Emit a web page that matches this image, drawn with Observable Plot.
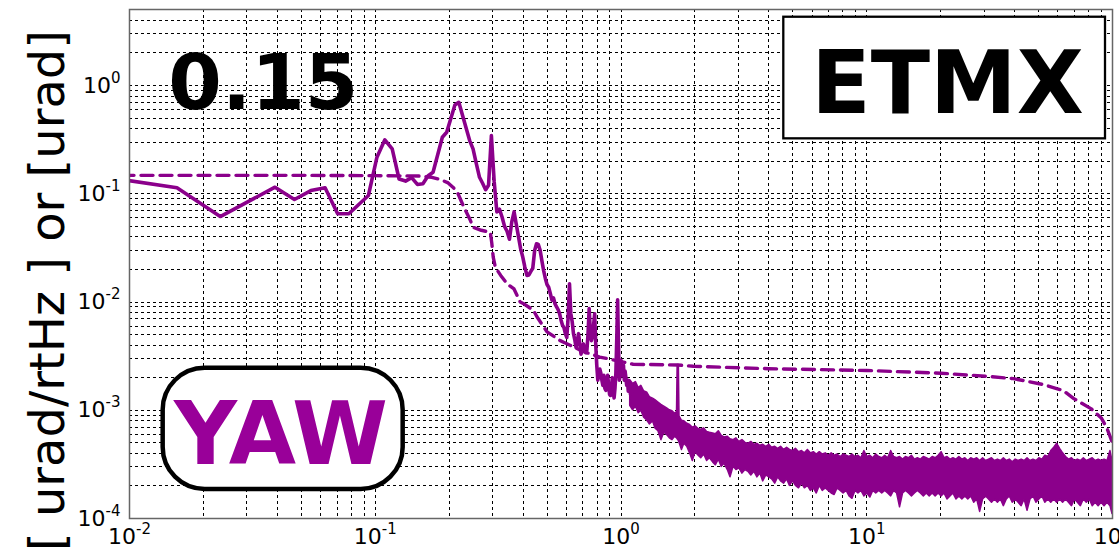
<!DOCTYPE html>
<html><head><meta charset="utf-8">
<script src="https://cdn.jsdelivr.net/npm/d3@7"></script>
<script src="https://cdn.jsdelivr.net/npm/@observablehq/plot@0.6"></script>
<style>html,body{margin:0;padding:0;background:#fff;overflow:hidden;}</style>
</head><body><div id="chart"></div>
<script>
// ---- axis ticks ----
const xTickValues = [0.01, 0.1, 1, 10, 100];
const xTickExps = ["-2", "-1", "0", "1", "2"];
const yTickValues = [1e-4, 1e-3, 1e-2, 1e-1, 1];
const yTickExps = ["-4", "-3", "-2", "-1", "0"];
const yLabel = "[ urad/rtHz ] or [urad]";

// ---- solid ASD line (low-frequency part) ----
const lineF = [0.0078,0.0156,0.0234,0.0391,0.0469,0.0547,0.0625,0.0703,0.0781,0.0938,
  0.1016,0.1094,0.1172,0.125,0.1328,0.1406,0.1484,0.1563,0.1641,0.1719,
  0.1875,0.1953,0.2109,0.2188,0.2422,0.25,0.2578,0.2656,0.2734,0.2813,
  0.2891,0.2969,0.3047,0.3125,0.3203,0.3281,0.3359,0.3438,0.3516,0.3594,
  0.3672,0.375,0.3828,0.3906,0.3984,0.4063,0.4141,0.4219,0.4297,0.4375,
  0.4453,0.4531,0.4609,0.4688,0.4766,0.4844,0.4922,0.5,0.5078,0.5156,
  0.5234,0.5313,0.5391,0.5469,0.5547,0.5625,0.5703,0.5781,0.5859,0.5938,
  0.6016,0.6094,0.6172,0.625,0.6328,0.6406,0.6484,0.6563,0.6641,0.6719,
  0.6797,0.6875,0.6953,0.7031,0.7109,0.7188,0.7266,0.7344,0.7422,0.75,
  0.7578,0.7656,0.7734,0.7813,0.7891,0.7969,0.8047,0.8125,0.8203,0.8281,
  0.8359,0.8438,0.8516,0.8594,0.8672,0.875,0.8828,0.8906,0.8984,0.9063,
  0.9141,0.9219,0.9297,0.9375,0.9453,0.9531,0.9609,0.9688,0.9766,0.9844,
  0.9922,1.0,1.0078,1.0156,1.0234,1.0313,1.0391,1.0469,1.0547,1.0625,
  1.0703,1.0781,1.0859,1.0938,1.1016,1.1094];
const lineA = [0.144,0.1135,0.0616,0.115,0.0885,0.107,0.1135,0.0653,0.0653,0.0964,
  0.218,0.315,0.26,0.137,0.131,0.141,0.122,0.124,0.147,0.158,
  0.333,0.37,0.66,0.70,0.31,0.26,0.19,0.142,0.125,0.109,
  0.12,0.345,0.13,0.068,0.072,0.061,0.050,0.045,0.038,0.055,
  0.068,0.052,0.040,0.031,0.026,0.021,0.0176,0.0178,0.0192,0.0205,
  0.030,0.0345,0.034,0.030,0.024,0.0195,0.0165,0.0145,0.0137,0.012,
  0.0104,0.0109,0.0096,0.009,0.0085,0.0078,0.0068,0.0061,0.0058,0.0051,
  0.0047,0.0072,0.0147,0.0078,0.0066,0.0051,0.0045,0.0038,0.0044,0.0051,
  0.0041,0.0033,0.0037,0.0041,0.0037,0.0034,0.0036,0.0051,0.0087,0.0054,
  0.0044,0.0048,0.0061,0.0078,0.0041,0.0026,0.0019,0.0021,0.0024,0.0022,
  0.0019,0.0017,0.0021,0.0016,0.00153,0.0019,0.0021,0.0017,0.0014,0.00137,
  0.0016,0.0020,0.0015,0.0013,0.0016,0.0022,0.0045,0.0105,0.0040,0.0019,
  0.0021,0.0029,0.0025,0.0021,0.0026,0.0019,0.0023,0.0020,0.0017,0.0019,
  0.0015,0.0018,0.0016,0.0014,0.0017,0.0015];

// ---- solid ASD, dense noisy part: lower / upper envelope of the band ----
const bandF = [1.09,1.12,1.15,1.18,1.21,1.24,1.28,1.31,1.35,1.38,
  1.42,1.46,1.50,1.54,1.58,1.62,1.66,1.69,1.70,1.72,
  1.73,1.77,1.81,1.86,1.91,1.96,2.01,2.07,2.12,2.18,
  2.24,2.30,2.37,2.43,2.50,2.57,2.64,2.72,2.79,2.87,
  2.95,3.03,3.12,3.21,3.30,3.39,3.49,3.59,3.69,3.79,
  3.90,4.01,4.12,4.24,4.36,4.48,4.61,4.74,4.87,5.01,
  5.15,5.30,5.45,5.60,5.76,5.92,6.09,6.26,6.44,6.62,
  6.81,7.00,7.20,7.40,7.61,7.83,8.05,8.28,8.51,8.75,
  9.00,9.25,9.51,9.78,10.06,10.34,10.63,10.93,11.24,11.56,
  11.89,12.22,12.57,12.92,13.29,13.66,14.05,14.44,14.85,15.27,
  15.70,16.14,16.60,17.07,17.55,18.04,18.55,19.07,19.61,20.16,
  20.73,21.31,21.91,22.53,23.17,23.82,24.49,25.18,25.89,26.62,
  27.37,28.14,28.93,29.75,30.58,31.45,32.33,33.24,34.18,35.14,
  36.13,37.15,38.19,39.27,40.37,41.51,42.68,43.88,45.11,46.38,
  47.69,49.03,50.41,51.83,53.29,54.79,56.33,57.91,59.54,61.22,
  62.94,64.71,66.53,68.40,70.33,72.31,74.34,76.43,78.58,80.79,
  83.06,85.40,87.80,90.27,92.81,95.42,98.10,100];
const bandLo = [0.00110,0.00100,0.00108,0.00094,0.00099,0.00086,0.00080,0.00074,0.00079,0.00068,
  0.00064,0.00053,0.00062,0.00059,0.00055,0.00053,0.00057,0.00055,0.00054,0.00052,
  0.00050,0.00043,0.00049,0.00046,0.00040,0.00034,0.00041,0.00038,0.00036,0.00039,
  0.00034,0.00036,0.00033,0.00031,0.00035,0.00030,0.00032,0.00028,0.00024,0.00030,
  0.00028,0.00029,0.00026,0.00028,0.00027,0.00025,0.00027,0.00024,0.00026,0.00022,
  0.00025,0.00024,0.00023,0.00021,0.00024,0.00022,0.00021,0.00023,0.00020,0.00022,
  0.00020,0.00019,0.00021,0.00019,0.00020,0.00018,0.00019,0.00017,0.00020,0.00018,
  0.00019,0.00018,0.00017,0.000165,0.00019,0.00018,0.00017,0.00018,0.00016,0.000152,
  0.00018,0.00017,0.00018,0.00016,0.00017,0.000156,0.00018,0.00017,0.00018,0.00017,
  0.00018,0.00017,0.00016,0.00018,0.00017,0.000127,0.00017,0.00018,0.00017,0.00016,
  0.00017,0.00018,0.00017,0.00016,0.00017,0.00016,0.00017,0.00016,0.00017,0.00016,
  0.00017,0.00015,0.00016,0.00017,0.00015,0.00016,0.00015,0.00016,0.00015,0.00016,
  0.00014,0.00015,0.000115,0.00015,0.00016,0.00015,0.00014,0.00015,0.00014,0.00015,
  0.00013,0.00015,0.00016,0.00014,0.00015,0.00014,0.00013,0.00015,0.000118,0.00015,
  0.00016,0.00014,0.00015,0.00016,0.00014,0.00015,0.00014,0.00015,0.00014,0.00015,
  0.00014,0.00015,0.00014,0.00013,0.00015,0.00014,0.00013,0.00015,0.00014,0.00015,
  0.00013,0.00014,0.00013,0.00014,0.00013,0.00014,0.00013,0.00011];
const bandHi = [0.00190,0.00175,0.00182,0.00160,0.00168,0.00150,0.00145,0.00132,0.00128,0.00124,
  0.00118,0.00112,0.00108,0.00104,0.00100,0.00098,0.00093,0.00096,0.00262,0.00262,
  0.00088,0.00080,0.00079,0.00075,0.00073,0.00069,0.00071,0.00067,0.00066,0.00068,
  0.00063,0.00062,0.00061,0.00060,0.00064,0.00058,0.00056,0.00057,0.00054,0.00053,
  0.00055,0.00051,0.00053,0.00050,0.00049,0.00051,0.00048,0.00049,0.00047,0.00048,
  0.00046,0.00048,0.00045,0.00046,0.00044,0.00046,0.00043,0.00045,0.00043,0.00042,
  0.00044,0.00041,0.00042,0.00040,0.00043,0.00040,0.00041,0.00039,0.00041,0.00039,
  0.00040,0.00038,0.00040,0.00038,0.00039,0.00037,0.00039,0.00038,0.00037,0.00039,
  0.00037,0.00038,0.00036,0.00042,0.00037,0.00038,0.00036,0.00039,0.00037,0.00036,
  0.00038,0.00036,0.00042,0.00037,0.00036,0.00037,0.00035,0.00037,0.00036,0.00038,
  0.00035,0.00036,0.00035,0.00037,0.00036,0.00035,0.00037,0.00036,0.00038,0.00041,
  0.00036,0.00037,0.00035,0.00036,0.00035,0.00037,0.00035,0.00036,0.00034,0.00036,
  0.00035,0.00036,0.00034,0.00036,0.00034,0.00035,0.00036,0.00034,0.00035,0.00034,
  0.00036,0.00034,0.00035,0.00033,0.00035,0.00034,0.00035,0.00034,0.00036,0.00034,
  0.00035,0.00034,0.00036,0.00035,0.00038,0.00037,0.00042,0.00045,0.00049,0.00044,
  0.00040,0.00037,0.00035,0.00036,0.00034,0.00035,0.00034,0.00036,0.00034,0.00035,
  0.00036,0.00034,0.00035,0.00034,0.00035,0.00034,0.00042,0.00034];

// ---- dashed (cumulative RMS) line ----
const dashF = [0.0078,0.05,0.1,0.15,0.17,0.185,0.198,0.207,0.216,0.229,
  0.244,0.25,0.27,0.294,0.298,0.302,0.308,0.324,0.344,0.367,
  0.389,0.40,0.44,0.455,0.50,0.566,0.59,0.70,0.82,0.88,
  1.12,1.7,1.97,4.0,10,20,30.6,39.5,52.2,63,
  69.6,82,90,95,100];
const dashA = [0.148,0.148,0.147,0.146,0.142,0.135,0.126,0.115,0.103,0.076,
  0.0565,0.049,0.046,0.044,0.035,0.026,0.021,0.0176,0.0147,0.0132,
  0.0100,0.0097,0.0084,0.0073,0.0053,0.0044,0.0042,0.0035,0.0031,0.0030,
  0.00266,0.00262,0.00255,0.00242,0.00233,0.0022,0.00206,0.00196,0.00173,0.00152,
  0.00128,0.00103,0.00085,0.00068,0.0005];

// ---- annotations (data coordinates) ----
const etmxBox = [{x1: 4.597, x2: 93.65, y1: 4.276, y2: 0.3218}];
const yawBox = [{x1: 0.01371, x2: 0.1299, y1: 0.002446, y2: 0.0001853}];
const etmxText = [{x: 21.31, y: 0.5546, t: "ETMX"}];
const yawText = [{x: 0.04135, y: 0.000320, t: "YAW"}];
const valueText = [{x: 0.03503, y: 0.6131, t: "0.15"}];

const purple = "#8b008b";
const line = lineF.map((f, i) => ({f, a: lineA[i]}));
const band = bandF.map((f, i) => ({f, lo: bandLo[i], hi: bandHi[i]}));
const dash = dashF.map((f, i) => ({f, a: dashA[i]}));

const gridStyle = {stroke: "#000", strokeOpacity: 1, strokeWidth: 1, strokeDasharray: "3,3", shapeRendering: "crispEdges"};

const chart = Plot.plot({
  width: 1119, height: 554,
  marginLeft: 129, marginRight: 7, marginTop: 9, marginBottom: 36,
  style: {fontFamily: "DejaVu Sans", background: "#fff", color: "#000"},
  x: {type: "log", domain: [0.01, 100]},
  y: {type: "log", domain: [1e-4, 5.04]},
  marks: [
    Plot.gridX(gridStyle),
    Plot.gridY(gridStyle),
    Plot.axisX({ticks: xTickValues, tickFormat: d => "10" + xTickExps[xTickValues.indexOf(d)],
      tickSize: 0, tickPadding: 10, fontSize: 22, label: null}),
    Plot.axisY({ticks: yTickValues, tickFormat: d => "10" + yTickExps[yTickValues.indexOf(d)],
      tickSize: 0, tickPadding: 9, fontSize: 22, label: null}),
    Plot.rect(etmxBox, {x1: "x1", x2: "x2", y1: "y1", y2: "y2", fill: "#fff", stroke: "#000", strokeWidth: 2.3}),
    Plot.rect(yawBox, {x1: "x1", x2: "x2", y1: "y1", y2: "y2", fill: "#fff", stroke: "#000", strokeWidth: 4.5, rx: 42}),
    Plot.line(dash, {x: "f", y: "a", stroke: purple, strokeWidth: 3.4, strokeDasharray: "12,7", clip: true}),
    Plot.areaY(band, {x: "f", y1: "lo", y2: "hi", fill: purple, stroke: purple, strokeWidth: 1.5, clip: true}),
    Plot.line(line, {x: "f", y: "a", stroke: purple, strokeWidth: 3.6, clip: true}),
    Plot.frame({stroke: "#666", strokeWidth: 1.5}),
    Plot.text(valueText, {x: "x", y: "y", text: "t", fontSize: 77, fontWeight: "bold", fill: "#000",
      textAnchor: "middle", lineAnchor: "bottom", ariaLabel: "value-label"}),
    Plot.text(etmxText, {x: "x", y: "y", text: "t", fontSize: 87, fontWeight: "bold", fill: "#000",
      textAnchor: "middle", lineAnchor: "bottom", ariaLabel: "etmx-label"}),
    Plot.text(yawText, {x: "x", y: "y", text: "t", fontSize: 87, fontWeight: "bold", fill: "#990099",
      textAnchor: "middle", lineAnchor: "bottom", ariaLabel: "yaw-label"}),
    Plot.text([yLabel], {frameAnchor: "left", rotate: -90, dx: -66, dy: 26.5, fontSize: 48,
      textAnchor: "middle", lineAnchor: "bottom", fill: "#000", ariaLabel: "y-title"})
  ]
});
document.getElementById("chart").appendChild(chart);

// squeeze the bold annotation labels to the widths seen in the picture
const svg = d3.select(chart);
[["value-label", 180], ["etmx-label", 251], ["yaw-label", 192]].forEach(([k, w]) => {
  svg.selectAll(`g[aria-label="${k}"] text`).attr("textLength", w).attr("lengthAdjust", "spacingAndGlyphs");
});
// matplotlib-like superscript exponents on tick labels
svg.selectAll('g[aria-label$="tick label"] text').each(function() {
  const s = this.textContent;
  if (!s.startsWith("10")) return;
  const exp = s.slice(2);
  this.textContent = "10";
  d3.select(this).append("tspan").attr("dy", -10).attr("font-size", 15).text(exp);
});
</script>
</body></html>
